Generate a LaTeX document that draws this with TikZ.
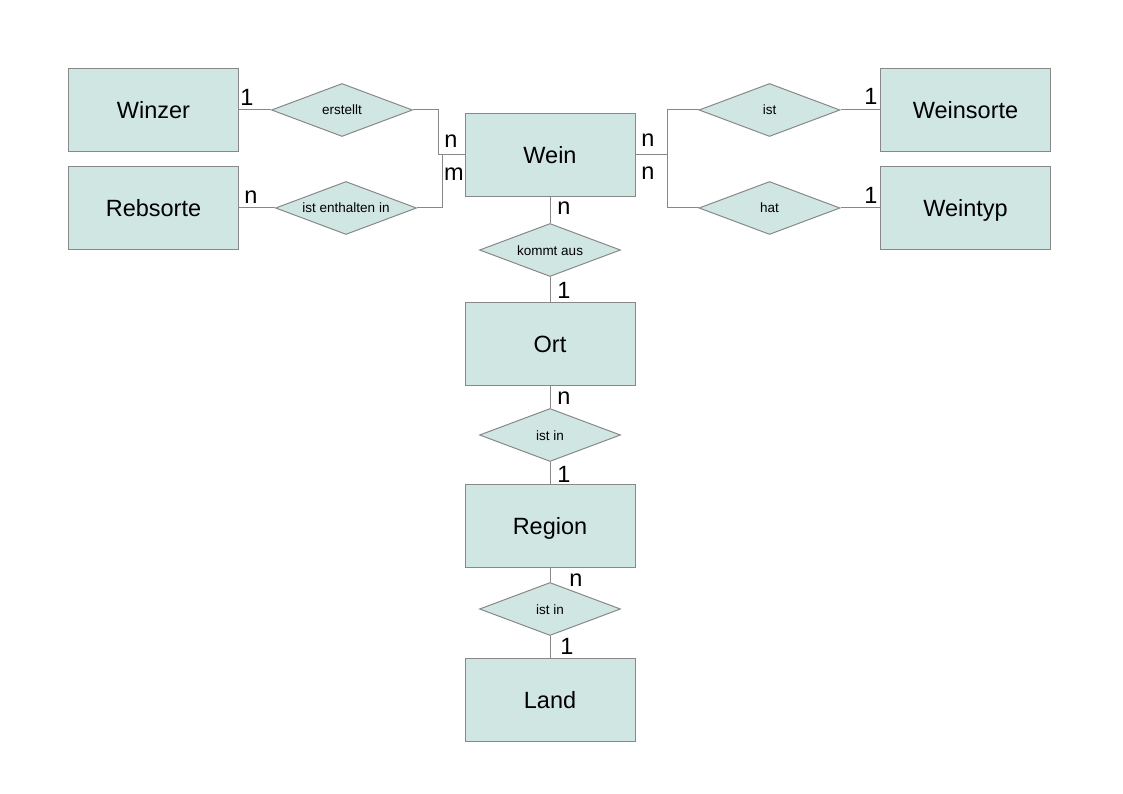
\documentclass[tikz,border=0pt]{standalone}
\usepackage{fontspec}
\setmainfont{Liberation Sans}
\usetikzlibrary{shapes.geometric}
\definecolor{erfill}{HTML}{D0E6E2}
\definecolor{erline}{HTML}{888888}
\begin{document}
\begin{tikzpicture}[x=1pt,y=-1pt,
  entity/.style={draw=erline,fill=erfill,line width=1pt,minimum width=170pt,minimum height=83pt,inner sep=0pt,
    text height=17pt,text depth=0pt,font=\fontsize{23.5}{28}\selectfont},
  relation/.style={draw=erline,fill=erfill,line width=1pt,shape=diamond,shape aspect=2.66,inner sep=0pt,
    minimum width=141pt,minimum height=53pt,text height=10pt,text depth=0pt,font=\fontsize{13.5}{16}\selectfont},
  card/.style={inner sep=0pt,font=\fontsize{23.5}{28}\selectfont},
  link/.style={draw=erline,line width=1pt}]
\useasboundingbox (0,0) rectangle (1123,794);
\fill[white] (0,0) rectangle (1123,794);
% entities
\node[entity] (winzer) at (153.5,110) {Winzer};
\node[entity] (rebsorte) at (153.5,208) {Rebsorte};
\node[entity] (wein) at (550,155) {Wein};
\node[entity] (weinsorte) at (965.5,110) {Weinsorte};
\node[entity] (weintyp) at (965.5,208) {Weintyp};
\node[entity] (ort) at (550,344) {Ort};
\node[entity] (region) at (550,525.5) {Region};
\node[entity] (land) at (550,699.5) {Land};
% relations
\node[relation] (erstellt) at (342,110) {erstellt};
\node[relation] (enthalten) at (346,208) {ist enthalten in};
\node[relation] (ist) at (769.5,110) {ist};
\node[relation] (hat) at (769.5,208) {hat};
\node[relation] (kommt) at (550,250) {kommt aus};
\node[relation] (istin1) at (550,435) {ist in};
\node[relation] (istin2) at (550,609) {ist in};
% junctions
\coordinate (jl1) at (438,155);
\coordinate (jl2) at (442,155);
\coordinate (jr) at (667,155);
% connectors
\draw[link] (winzer.east) -- (erstellt.west);
\draw[link] (rebsorte.east) -- (enthalten.west);
\draw[link] (erstellt.east) -| (jl1) -- (wein.west);
\draw[link] (enthalten.east) -| (jl2);
\draw[link] (wein.east) -- (jr) |- (ist.west);
\draw[link] (jr) |- (hat.west);
\draw[link] (ist.east) -- (weinsorte.west);
\draw[link] (hat.east) -- (weintyp.west);
\draw[link] (wein.south) -- (kommt.north);
\draw[link] (kommt.south) -- (ort.north);
\draw[link] (ort.south) -- (istin1.north);
\draw[link] (istin1.south) -- (region.north);
\draw[link] (region.south) -- (istin2.north);
\draw[link] (istin2.south) -- (land.north);
% cardinalities
\node[card] (c1) at (247,97.5) {1};
\node[card] (c2) at (251,197.5) {n};
\node[card] (c3) at (451,141.5) {n};
\node[card] (c4) at (454,174.5) {m};
\node[card] (c5) at (648,140) {n};
\node[card] (c6) at (648,173.5) {n};
\node[card] (c7) at (871,96.5) {1};
\node[card] (c8) at (871,195) {1};
\node[card] (c9) at (564,208) {n};
\node[card] (c10) at (564,290.5) {1};
\node[card] (c11) at (564,398) {n};
\node[card] (c12) at (564,474) {1};
\node[card] (c13) at (576,580) {n};
\node[card] (c14) at (567,646) {1};
\end{tikzpicture}
\end{document}
